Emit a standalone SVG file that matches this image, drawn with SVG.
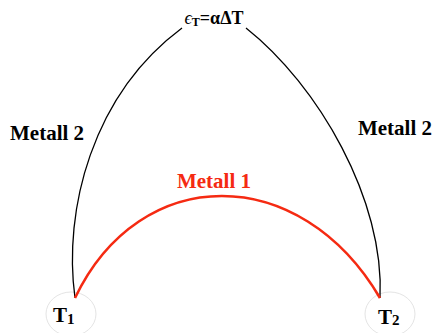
<svg xmlns="http://www.w3.org/2000/svg" width="434" height="333" viewBox="0 0 434 333">
<style>
.t{font-weight:bold;fill:#000}
.node{fill:#fff;stroke:#e4e4e4;stroke-width:1}
.m2{fill:none;stroke:#000;stroke-width:1.3}
.m1{fill:none;stroke:#f52a12;stroke-width:2.6}
</style>
<rect width="434" height="333" fill="#fff"/>
<g id="T1">
<ellipse class="node" cx="71" cy="314" rx="25" ry="22"/>
<text class="t" font-family="Liberation Serif, Times New Roman, serif" x="53" y="322" font-size="21">T<tspan font-size="15" dy="2">1</tspan></text>
</g>
<g id="T2">
<ellipse class="node" cx="390" cy="314" rx="25" ry="22"/>
<text class="t" font-family="Liberation Serif, Times New Roman, serif" x="378" y="324" font-size="21">T<tspan font-size="15" dy="1">2</tspan></text>
</g>
<g id="connectors">
<path class="m2" d="M75,298 C63,210 92,95 182,28"/>
<path class="m2" d="M246,28 C318,85 385,200 380,298"/>
<path class="m1" d="M75,298 C140,162 300,162 380,298"/>
</g>
<g id="labels" font-family="Liberation Serif, Times New Roman, serif">
<text class="t" x="214" y="24" font-size="18" text-anchor="middle"><tspan font-weight="normal" font-style="italic">ϵ</tspan><tspan font-size="12" dy="2">T</tspan><tspan dy="-2">=αΔT</tspan></text>
<text class="t" x="10" y="140" font-size="21">Metall 2</text>
<text class="t" x="432" y="135" font-size="21" text-anchor="end">Metall 2</text>
<text class="t" x="214" y="188" font-size="21" text-anchor="middle" style="fill:#f52a12">Metall 1</text>
</g>
</svg>
